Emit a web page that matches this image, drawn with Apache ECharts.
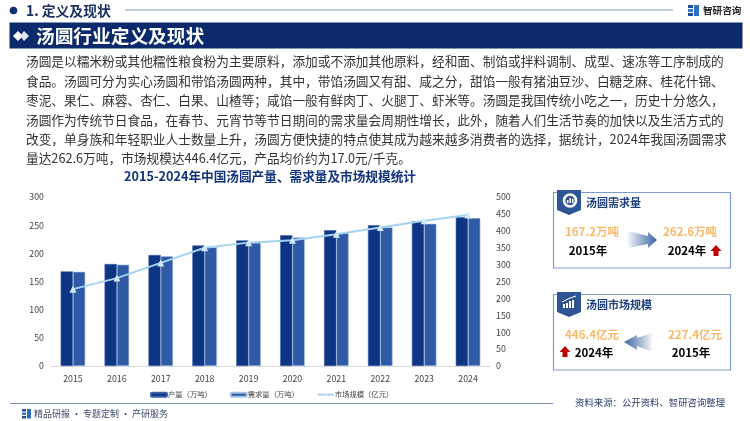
<!DOCTYPE html>
<html>
<head>
<meta charset="utf-8">
<style>
html, body { margin: 0; padding: 0; background: #fff; }
#chart { width: 750px; height: 421px; }
</style>
<script src="https://cdn.jsdelivr.net/npm/echarts@6/dist/echarts.min.js"></script>
</head>
<body>
<div id="chart"></div>
<script>
// 数据
const years = ["2015", "2016", "2017", "2018", "2019", "2020", "2021", "2022", "2023", "2024"];
const output = [168, 181, 197, 214, 223, 232, 241, 250, 257, 264];
const demand = [167.2, 180, 195, 211, 219, 228, 236, 246, 252.5, 262.6];
const marketSize = [227.4, 260, 305, 350, 365, 372, 390, 410, 430, 446.4];
const paragraph = [
	"汤圆是以糯米粉或其他糯性粮食粉为主要原料，添加或不添加其他原料，经和面、制馅或拌料调制、成型、速冻等工序制成的",
	"食品。汤圆可分为实心汤圆和带馅汤圆两种，其中，带馅汤圆又有甜、咸之分，甜馅一般有猪油豆沙、白糖芝麻、桂花什锦、",
	"枣泥、果仁、麻蓉、杏仁、白果、山楂等；咸馅一般有鲜肉丁、火腿丁、虾米等。汤圆是我国传统小吃之一，历史十分悠久，",
	"汤圆作为传统节日食品，在春节、元宵节等节日期间的需求量会周期性增长，此外，随着人们生活节奏的加快以及生活方式的",
	"改变，单身族和年轻职业人士数量上升，汤圆方便快捷的特点使其成为越来越多消费者的选择，据统计，2024年我国汤圆需求",
	"量达262.6万吨，市场规模达446.4亿元，产品均价约为17.0元/千克。",
];

const FONT = '"Noto Sans CJK SC", "Noto Sans", sans-serif';
const NAVY = "#0b2a6b";
const ORANGE = "#f8b968";

const text = (x, y, str, size, color, weight, align) => ({
	type: "text",
	x,
	y,
	silent: true,
	style: {
		text: str,
		fontFamily: FONT,
		fontSize: size,
		fontWeight: weight || "normal",
		fill: color,
		align: align || "left",
		verticalAlign: "middle",
	},
});
const rect = (x, y, width, height, fill, extra) => ({
	type: "rect",
	shape: { x, y, width, height },
	silent: true,
	style: Object.assign({ fill }, extra || {}),
});
const poly = (points, fill) => ({
	type: "polygon",
	shape: { points },
	silent: true,
	style: { fill },
});
// 渐变坐标是相对图形包围盒的 0-1
const fade = (from, to) => ({
	type: "linear",
	x: 0,
	y: 0,
	x2: 1,
	y2: 0,
	colorStops: [
		{ offset: 0, color: from },
		{ offset: 1, color: to },
	],
});
// 红色向上箭头
const upArrow = (cx, cy) =>
	poly(
		[
			[cx, cy - 6],
			[cx + 5.5, cy],
			[cx + 2.5, cy],
			[cx + 2.5, cy + 5],
			[cx - 2.5, cy + 5],
			[cx - 2.5, cy],
			[cx - 5.5, cy],
		],
		"#c00000"
	);
// 带标题的框
const panel = (top, title) => [
	rect(553.5, top + 0.5, 177, 75.5, "#fff", { stroke: "#7f9bc9", lineWidth: 1.2 }),
	poly(
		[
			[557, top - 2],
			[581, top - 2],
			[581, top + 18],
			[569, top + 23],
			[557, top + 18],
		],
		"#2f5597"
	),
	text(586, top + 11, title, 11, "#1f3f80", "bold"),
];

const graphics = [
	// 页眉
	{ type: "circle", shape: { cx: 13.5, cy: 10.5, r: 3.8 }, silent: true, style: { fill: "#0f2f70" } },
	text(26, 10.5, "1. 定义及现状", 13.8, "#1c3160", "bold"),
	rect(125, 9.5, 548, 1, "#8496c2"),
	rect(688, 5, 5, 3, "#1f4e9c"),
	rect(688, 9, 5, 3, "#3a78c8"),
	rect(688, 13, 5, 3, "#1f4e9c"),
	rect(694, 5, 5, 11, "#2f6fc0"),
	text(703, 10, "智研咨询", 9.6, "#222", "bold"),
	// 标题栏
	rect(9.5, 22.5, 733, 26, NAVY),
	poly([[13, 36], [18, 31], [23, 36], [18, 41]], "#fff"),
	poly([[20, 36], [24, 31], [29, 36], [24, 41]], "#dfe5f0"),
	text(36, 35.5, "汤圆行业定义及现状", 18.7, "#fff", "bold"),
	// 页脚
	rect(10, 403, 543, 1, "#7f90bb"),
	rect(22, 409, 4, 2.5, "#1f4e9c"),
	rect(22, 412.5, 4, 2.5, "#3a78c8"),
	rect(22, 416, 4, 2.5, "#1f4e9c"),
	rect(27, 409, 4, 9.5, "#2f6fc0"),
	text(34, 414, "精品研报 · 专题定制 · 产研服务", 9, "#3c4a6e"),
	text(575, 402.5, "资料来源：公开资料、智研咨询整理", 9.4, "#2c3e70"),
];

paragraph.forEach((line, i) => {
	graphics.push(text(26, 61.5 + i * 19.4, line, 12.7, "#333"));
});

// 需求量框
graphics.push(...panel(192, "汤圆需求量"));
graphics.push(
	{ type: "circle", shape: { cx: 570, cy: 200.5, r: 6 }, silent: true, style: { fill: "none", stroke: "#fff", lineWidth: 2.5 } },
	rect(567, 200, 1.5, 3, "#fff"),
	rect(569.5, 198, 1.5, 5, "#fff"),
	rect(572, 199, 1.5, 4, "#fff"),
	text(592, 232, demand[0].toFixed(1) + "万吨", 11.5, ORANGE, "bold", "center"),
	text(588, 251, years[0] + "年", 11.5, "#000", "bold", "center"),
	poly([[628, 231], [648, 236], [648, 232], [657, 240], [648, 248], [648, 244], [628, 248]], fade("rgba(47,85,151,0.05)", "#3f67a8")),
	text(690, 232, demand[9].toFixed(1) + "万吨", 11.5, ORANGE, "bold", "center"),
	text(687, 251, years[9] + "年", 11.5, "#000", "bold", "center"),
	upArrow(716, 251)
);

// 市场规模框
graphics.push(...panel(294, "汤圆市场规模"));
graphics.push(
	rect(563, 304, 2, 4, "#fff"),
	rect(566, 303, 2, 5, "#fff"),
	rect(569, 301, 2, 7, "#fff"),
	rect(572, 300, 2, 8, "#fff"),
	{ type: "polyline", shape: { points: [[562, 302], [566, 300], [569, 298.5], [576, 296]] }, silent: true, style: { fill: "none", stroke: "#fff", lineWidth: 1 } },
	text(592, 335, marketSize[9].toFixed(1) + "亿元", 11.5, ORANGE, "bold", "center"),
	text(594, 353, years[9] + "年", 11.5, "#000", "bold", "center"),
	upArrow(565, 352),
	poly([[652, 333], [637, 338], [637, 335], [624, 342], [637, 350], [637, 346], [652, 352]], fade("#3f67a8", "rgba(47,85,151,0.05)")),
	text(695, 335, marketSize[0].toFixed(1) + "亿元", 11.5, ORANGE, "bold", "center"),
	text(691, 353, years[0] + "年", 11.5, "#000", "bold", "center")
);

const axisLabel = { color: "#444", fontSize: 8.8, fontFamily: FONT };

const option = {
	animation: false,
	backgroundColor: "#fff",
	textStyle: { fontFamily: FONT },
	title: {
		text: "2015-2024年中国汤圆产量、需求量及市场规模统计",
		left: 265,
		top: 165,
		textAlign: "center",
		textStyle: { color: "#12337f", fontSize: 12.65, fontWeight: "bold", fontFamily: FONT },
	},
	grid: { left: 51, right: 260, top: 197, bottom: 55 },
	legend: {
		top: 386,
		left: 145,
		itemGap: 18,
		itemWidth: 16,
		itemHeight: 4,
		textStyle: { color: "#444", fontSize: 7.3, fontFamily: FONT, padding: [0, 0, 0, -4] },
		data: [
			{ name: "产量（万吨）" },
			{ name: "需求量（万吨）" },
			{ name: "市场规模（亿元）" },
		],
	},
	xAxis: {
		type: "category",
		data: years,
		axisLine: { lineStyle: { color: "#d9d9d9" } },
		axisTick: { show: false },
		axisLabel: Object.assign({ margin: 8 }, axisLabel),
	},
	yAxis: [
		{
			type: "value",
			min: 0,
			max: 300,
			interval: 50,
			axisLine: { show: false },
			axisTick: { show: false },
			splitLine: { show: false },
			axisLabel: Object.assign({ margin: 7 }, axisLabel),
		},
		{
			type: "value",
			min: 0,
			max: 500,
			interval: 50,
			axisLine: { show: false },
			axisTick: { show: false },
			splitLine: { show: false },
			axisLabel: Object.assign({ margin: 6 }, axisLabel),
		},
	],
	series: [
		{
			name: "产量（万吨）",
			type: "bar",
			data: output,
			barWidth: 12.3,
			barGap: 0,
			itemStyle: { color: "#0e3583", borderColor: "#3c63a8", borderWidth: 0.6 },
		},
		{
			name: "需求量（万吨）",
			type: "bar",
			data: demand,
			barWidth: 12.3,
			itemStyle: { color: "#2f5aa6", borderColor: "#a9c1e2", borderWidth: 0.6 },
		},
		{
			name: "市场规模（亿元）",
			type: "line",
			yAxisIndex: 1,
			data: marketSize,
			symbol: "triangle",
			symbolSize: 7,
			lineStyle: { color: "#a5d2f0", width: 2 },
			itemStyle: { color: "#d3e9f8" },
		},
	],
	graphic: { elements: graphics },
};

const chart = echarts.init(document.getElementById("chart"), null, { renderer: "canvas" });
chart.setOption(option);
</script>
</body>
</html>
